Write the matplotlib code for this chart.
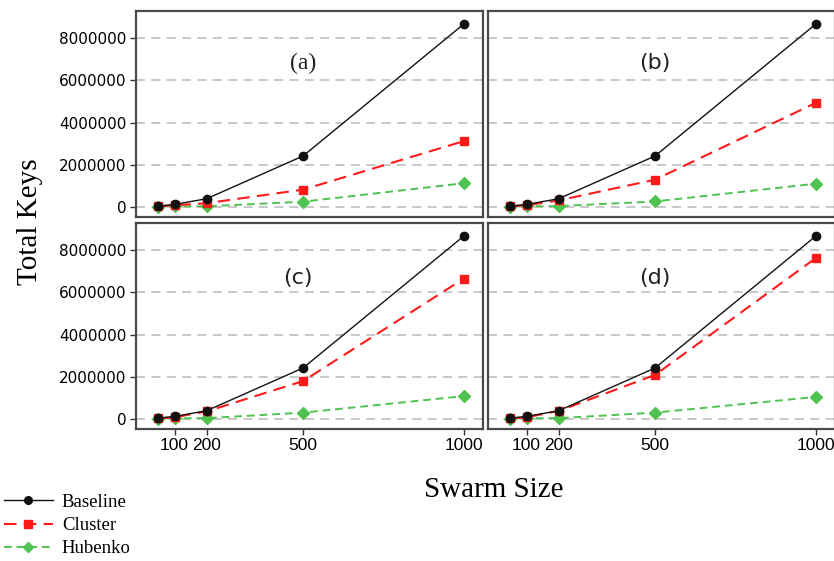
import matplotlib
matplotlib.use("Agg")
import matplotlib.pyplot as plt
from matplotlib.lines import Line2D

swarm = [50, 100, 200, 500, 1000]
xticks = [100, 200, 500, 1000]
yticks = [0, 2000000, 4000000, 6000000, 8000000]
panels = ["(a)", "(b)", "(c)", "(d)"]

baseline = [60000, 140000, 410000, 2430000, 8660000]
cluster_a = [50000, 100000, 200000, 840000, 3130000]
cluster_b = [50000, 100000, 330000, 1310000, 4940000]
cluster_c = [50000, 100000, 380000, 1810000, 6650000]
cluster_d = [50000, 100000, 400000, 2100000, 7620000]
hubenko_a = [40000, 50000, 50000, 270000, 1140000]
hubenko_b = [40000, 50000, 60000, 280000, 1120000]
hubenko_c = [40000, 50000, 60000, 320000, 1100000]
hubenko_d = [40000, 50000, 60000, 320000, 1060000]

clusters = [cluster_a, cluster_b, cluster_c, cluster_d]
hubenkos = [hubenko_a, hubenko_b, hubenko_c, hubenko_d]

W, H = 834, 561
fig = plt.figure(figsize=(W / 100, H / 100), dpi=100)

lefts = [136, 488, 136, 488]
tops = [11, 11, 223, 223]
pw, ph = 347, 205.5

c_black = "#111111"
c_red = "#ff1a1a"
c_green = "#4fc24f"

label_pos = [(500, 6800000), (500, 6800000), (485, 6700000), (500, 6700000)]
label_fonts = ["Liberation Serif", "DejaVu Sans", "DejaVu Sans", "DejaVu Sans"]
label_sizes = [17, 16, 16, 16]

for i in range(4):
    ax = fig.add_axes([lefts[i] / W, 1 - (tops[i] + ph) / H, pw / W, ph / H])
    ax.set_xlim(-20, 1060)
    ax.set_ylim(-430000, 9280000)
    ax.set_yticks(yticks)
    ax.set_xticks(xticks)
    for yv in yticks:
        ax.axhline(yv, color="#c4c4c4", lw=1.3, ls=(0, (5, 3.5)), zorder=0)
    ax.plot(swarm, hubenkos[i], color=c_green, ls=(0, (4, 2.5)), lw=1.4,
            marker="D", ms=6, mec=c_green, zorder=2)
    ax.plot(swarm, clusters[i], color=c_red, ls=(0, (6, 3.5)), lw=1.5,
            marker="s", ms=6, mec=c_red, zorder=3)
    ax.plot(swarm, baseline, color=c_black, ls="-", lw=1.0,
            marker="o", ms=6, zorder=4)
    ax.text(label_pos[i][0], label_pos[i][1], panels[i], ha="center", va="center",
            fontsize=label_sizes[i], family=label_fonts[i], color="#222222")
    for s in ax.spines.values():
        s.set_color("#4a4a4a")
        s.set_linewidth(1.6)
    ax.tick_params(direction="out", length=4, width=1, color="#333333",
                   labelsize=11, pad=3)
    if i in (0, 2):
        ax.set_yticklabels([str(v) for v in yticks])
    else:
        ax.tick_params(axis="y", left=False, labelleft=False)
    if i in (2, 3):
        ax.set_xticklabels([str(v) for v in xticks], fontsize=12.5,
                           family="Liberation Sans")
    else:
        ax.tick_params(axis="x", bottom=False, labelbottom=False)

fig.text(30 / W, 1 - 222 / H, "Total Keys", rotation=90, ha="center", va="center",
         fontsize=21, family="Liberation Serif")
fig.text(494 / W, 1 - 490 / H, "Swarm Size", ha="center", va="center",
         fontsize=21, family="Liberation Serif")

handles = [
    Line2D([], [], color=c_black, lw=1.0, marker="o", ms=5.5),
    Line2D([], [], color=c_red, lw=1.5, ls=(0, (6, 3.5)), marker="s", ms=5.5),
    Line2D([], [], color=c_green, lw=1.4, ls=(0, (4, 2.5)), marker="D", ms=5.5),
]
fig.legend(handles, ["Baseline", "Cluster", "Hubenko"], loc="lower left",
           bbox_to_anchor=(0 / W, 1 - 561 / H), frameon=False,
           prop={"family": "Liberation Serif", "size": 13.5},
           handlelength=2.6, handletextpad=0.5, labelspacing=0.32,
           borderpad=0.1, borderaxespad=0.1)

fig.savefig("out.png", dpi=100)
